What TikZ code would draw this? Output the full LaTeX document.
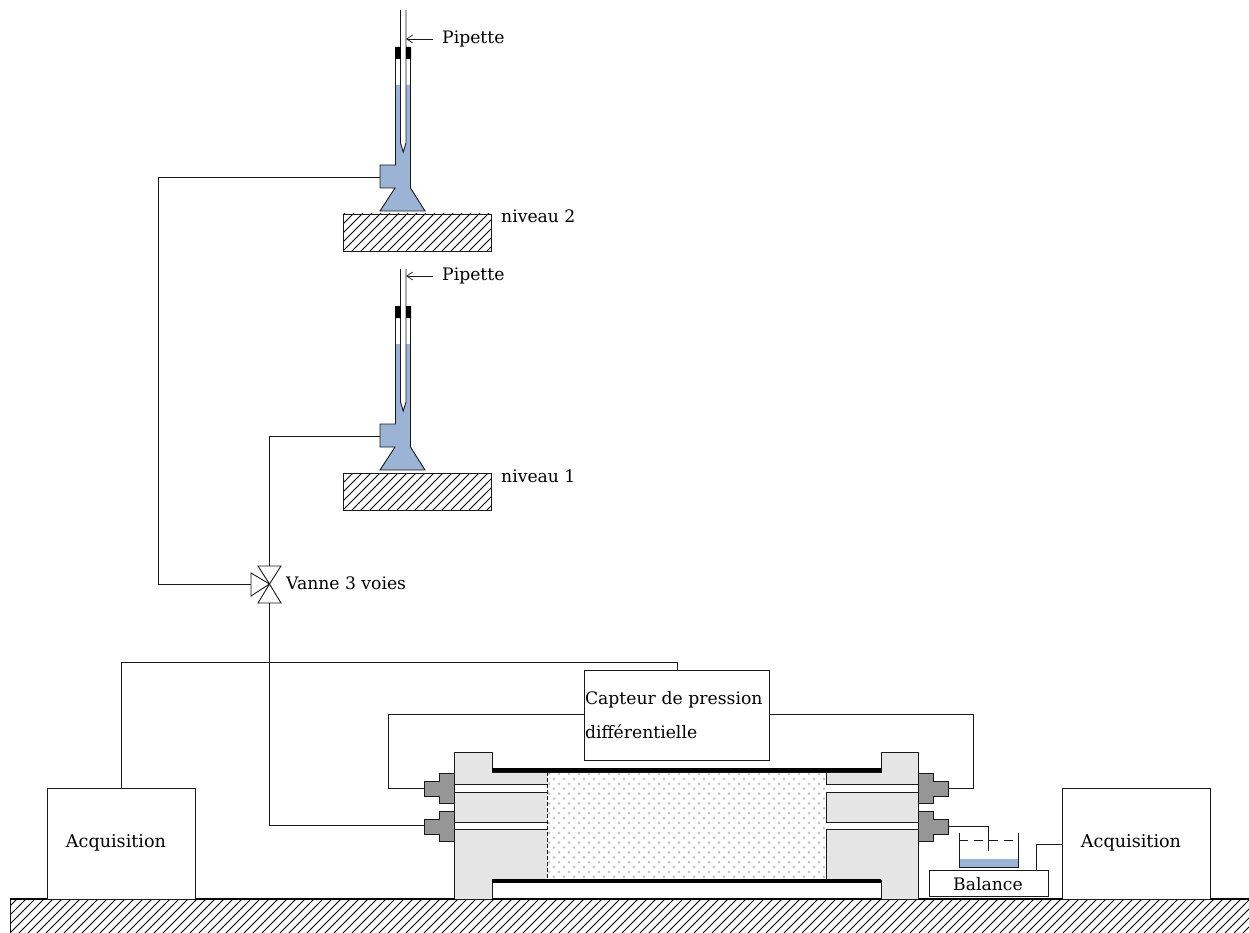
\documentclass[tikz,border=0pt]{standalone}
\usepackage{fontspec}
\usetikzlibrary{arrows.meta}
\setmainfont{DejaVu Serif}
\definecolor{water}{RGB}{155,179,212}
\definecolor{body}{RGB}{229,229,229}
\definecolor{fitting}{RGB}{150,150,150}
\definecolor{dotgray}{RGB}{195,195,195}
\tikzset{
  ln/.style={draw=black!90,line width=0.9pt,line join=miter},
  boxn/.style={ln,fill=white,rectangle,inner sep=1pt,anchor=north west},
  lbl/.style={inner sep=0pt,font=\fontsize{17.2}{20}\selectfont},
  bar/.style={fill=black,draw=none},
  ptr/.style={draw=black!90,line width=0.7pt,-{Straight Barb[length=6pt,width=8pt]}},
}
% hatched rectangle
\newcommand{\hatchrect}[4]{%
  \begin{scope}
    \clip (#1,#2) rectangle (#3,#4);
    \foreach \k in {-60,...,160}{
      \draw[line width=0.8pt,black] ({#1+\k*9},#4) -- ++(50,-50);
    }
  \end{scope}}
% water-filled pipette assembly
\newcommand{\pipetteset}[1]{%
  \begin{scope}[yshift=#1]
    \fill[water] (395.5,85) -- (410.5,85) -- (410.5,188) -- (425,211) -- (380,211) -- (395,188) -- (380,188) -- (380,165) -- (395.5,165) -- cycle;
    \draw[ln] (395.5,59) -- (395.5,165) -- (380,165) -- (380,188) -- (395,188) -- (380,211) -- (425,211) -- (410.5,188) -- (410.5,59);
    \fill[white] (400.5,59) -- (400.5,143) -- (403.2,152) -- (406,143) -- (406,59) -- cycle;
    \draw[ln] (400.5,10) -- (400.5,143) -- (403.2,152) -- (406,143) -- (406,10);
    \fill[black] (395,47) rectangle (400.5,59) (406,47) rectangle (411,59);
    \hatchrect{343}{214}{491}{251}
    \draw[ln] (343,214) rectangle (491,251);
  \end{scope}}
\begin{document}
\begin{tikzpicture}[x=1pt,y=-1pt]
\path[use as bounding box] (0,0) rectangle (1249,933);
% ground
\hatchrect{10}{899}{1249}{933}
\draw[ln] (10,933) -- (10,899);
\draw[line width=1.5pt,black] (10,899) -- (1249,899);
% pipettes
\pipetteset{0pt}
\pipetteset{-259pt}
\coordinate (stepA) at (380,177);
\coordinate (stepB) at (380,436);
\coordinate (tipA) at (406,39);
\coordinate (tipB) at (406,276);
\node[lbl,anchor=west] (pipA) at (442,39) {Pipette};
\node[lbl,anchor=west] (pipB) at (442,276) {Pipette};
\coordinate (pa) at (433,39);
\coordinate (pb) at (433,276);
\draw[ptr] (pa) -- (tipA);
\draw[ptr] (pb) -- (tipB);
\node[lbl,anchor=west] (nivB) at (501,216) {niveau 2};
\node[lbl,anchor=west] (nivA) at (501,476) {niveau 1};
% valve
\coordinate (vc) at (269.5,584);
\coordinate (vt) at (269.5,566);
\coordinate (vb) at (269.5,603);
\coordinate (vl) at (251,584.5);
\draw[ln,fill=white] (vc) -- (258,566) -- (281,566) -- cycle;
\draw[ln,fill=white] (vc) -- (258,603) -- (281,603) -- cycle;
\draw[ln,fill=white] (vc) -- (251,573) -- (251,596) -- cycle;
\node[lbl,anchor=west] (vanne) at (286,583) {Vanne 3 voies};
\draw[ln] (stepA) -- (158,177) -- (158,584.5) -- (vl);
\draw[ln] (stepB) -- (269.5,436) -- (vt);
% cell bodies
\fill[body] (454.5,752) -- (492,752) -- (492,772) -- (547,772) -- (547,880) -- (492,880) -- (492,899) -- (454.5,899) -- cycle;
\fill[body] (918,752) -- (881,752) -- (881,772) -- (826,772) -- (826,880) -- (881,880) -- (881,899) -- (918,899) -- cycle;
% porous sample
\begin{scope}
  \clip (547,772) rectangle (826,880);
  \fill[white] (547,772) rectangle (826,880);
  \foreach \i in {0,...,30}{
    \foreach \j in {0,...,24}{
      \pgfmathsetmacro{\xx}{549+\i*10+mod(\j,2)*5}
      \pgfmathsetmacro{\yy}{774+\j*4.9}
      \fill[dotgray] (\xx,\yy) circle (1.45);
    }
  }
\end{scope}
% channels
\fill[white] (454.5,784) rectangle (547,792) (454.5,822) rectangle (547,829);
\fill[white] (826,784) rectangle (918,792) (826,822) rectangle (918,829);
\draw[ln] (492,899) -- (492,880) -- (881,880) -- (881,899);
\draw[ln] (454.5,899) -- (454.5,752) -- (492,752) -- (492,772) -- (881,772) -- (881,752) -- (918,752) -- (918,899);
\foreach \yy in {784,792,822,829}{
  \draw[ln] (454.5,\yy) -- (547,\yy);
  \draw[ln] (826,\yy) -- (918,\yy);
}
\draw[ln,dash pattern=on 4pt off 2pt] (547,772) -- (547,880);
\draw[ln] (826,772) -- (826,784) (826,792) -- (826,822) (826,829) -- (826,880);
\fill[bar] (492,768) rectangle (881,772);
\fill[bar] (492,879) rectangle (881,883);
% fittings
\foreach \yo/\nm in {0/u,38/d}{
  \draw[ln,fill=fitting] (454.5,773+\yo) -- (439,773+\yo) -- (439,781+\yo) -- (424,781+\yo) -- (424,796+\yo) -- (439,796+\yo) -- (439,803+\yo) -- (454.5,803+\yo) -- cycle;
  \draw[ln,fill=fitting] (918,773+\yo) -- (933,773+\yo) -- (933,781+\yo) -- (948,781+\yo) -- (948,796+\yo) -- (933,796+\yo) -- (933,803+\yo) -- (918,803+\yo) -- cycle;
}
\coordinate (fLu) at (424,788);
\coordinate (fLd) at (424,825.5);
\coordinate (fRu) at (948,788);
\coordinate (fRd) at (948,826);
% boxes
\node[boxn,minimum width=185pt,minimum height=90pt,align=left,font=\fontsize{17.2}{34}\selectfont,text width=183pt,outer sep=0pt] (capt) at (584,670) {Capteur de pression\\différentielle};
\node[boxn,minimum width=148pt,minimum height=111pt,outer sep=0pt] (acqL) at (47,788) {};
\node[lbl,font=\fontsize{17.6}{20}\selectfont] at (116,843) (acqLt) {Acquisition};
\node[boxn,minimum width=148pt,minimum height=111pt,outer sep=0pt] (acqR) at (1062,788) {};
\node[lbl,font=\fontsize{17.6}{20}\selectfont] at (1131,843) (acqRt) {Acquisition};
\node[boxn,minimum width=119pt,minimum height=26pt,outer sep=0pt] (bal) at (929,870) {};
\node[lbl] at (988,884) (balt) {Balance};
% beaker
\fill[water] (959,859) rectangle (1018,867);
\draw[ln] (959,833) -- (959,867) -- (1018,867) -- (1018,833);
\draw[ln,dash pattern=on 9pt off 6pt] (959,840) -- (1018,840);
% connectors
\draw[ln] (acqL.north -| 121,0) -- (121,662) -- (677,662) -- (677,670);
\draw[ln] (capt.west) ++(0,-1) -- (388,714) -- (388,788) -- (fLu);
\draw[ln] (capt.east) ++(0,-1) -- (973,714) -- (973,788) -- (fRu);
\draw[ln] (vb) -- (269.5,825.5) -- (fLd);
\draw[ln] (fRd) -- (988,826) -- (988,851);
\draw[ln] (1036,870) -- (1036,844) -- (acqR.west |- 0,844);
\end{tikzpicture}
\end{document}
